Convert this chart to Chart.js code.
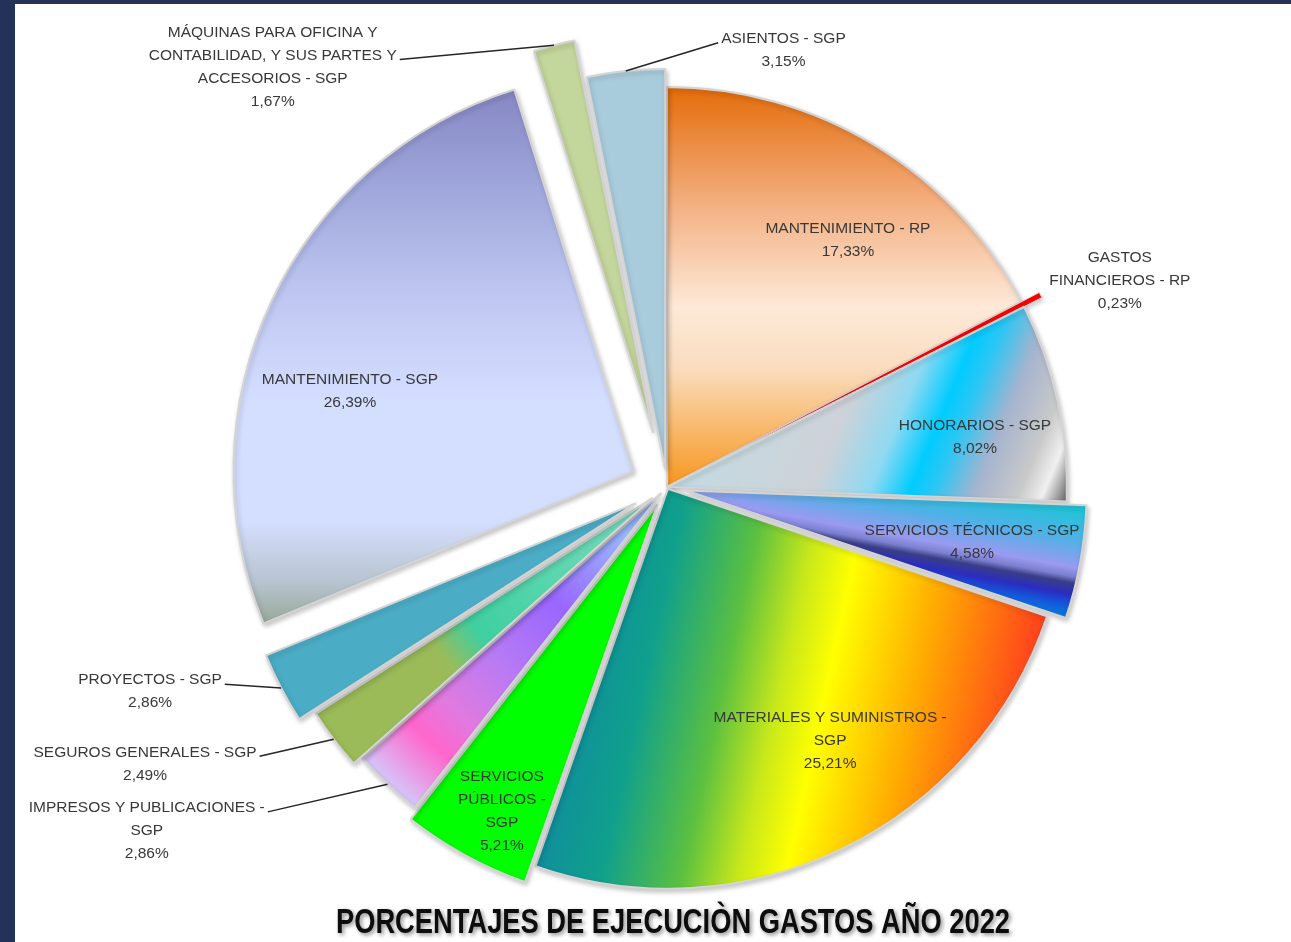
<!DOCTYPE html>
<html lang="es">
<head>
    <meta charset="UTF-8">
    <title>Porcentajes de ejecución gastos año 2022</title>
    <script src="https://cdn.jsdelivr.net/npm/chart.js"></script>
    <style>
        * {
            margin: 0;
            padding: 0;
            box-sizing: border-box;
        }

        body {
            width: 1291px;
            height: 942px;
            overflow: hidden;
            background: #ffffff;
            position: relative;
        }

        .chart-box {
            position: absolute;
            left: 0;
            top: 0;
            width: 1291px;
            height: 942px;
        }

        /* dark frame on the left and top edges */
        .frame-left {
            position: absolute;
            left: 0;
            top: 0;
            width: 15px;
            height: 942px;
            background: #243158;
        }

        .frame-top {
            position: absolute;
            left: 0;
            top: 0;
            width: 1291px;
            height: 4px;
            background: #243158;
        }
    </style>
</head>
<body>
    <div class="chart-box">
        <canvas id="gastosChart"></canvas>
    </div>
    <div class="frame-left"></div>
    <div class="frame-top"></div>

    <script>
        // Data
        const categories = [
            'MANTENIMIENTO - RP',
            'GASTOS FINANCIEROS - RP',
            'HONORARIOS - SGP',
            'SERVICIOS TÉCNICOS - SGP',
            'MATERIALES Y SUMINISTROS - SGP',
            'SERVICIOS PÚBLICOS - SGP',
            'IMPRESOS Y PUBLICACIONES - SGP',
            'SEGUROS GENERALES - SGP',
            'PROYECTOS - SGP',
            'MANTENIMIENTO - SGP',
            'MÁQUINAS PARA OFICINA Y CONTABILIDAD, Y SUS PARTES Y ACCESORIOS - SGP',
            'ASIENTOS - SGP'
        ];
        const percentages = [17.33, 0.23, 8.02, 4.58, 25.21, 5.21, 2.86, 2.49, 2.86, 26.39, 1.67, 3.15];

        // how the category names wrap in the data labels
        const labelLines = [
            ['MANTENIMIENTO - RP'],
            ['GASTOS', 'FINANCIEROS - RP'],
            ['HONORARIOS - SGP'],
            ['SERVICIOS TÉCNICOS - SGP'],
            ['MATERIALES Y SUMINISTROS -', 'SGP'],
            ['SERVICIOS', 'PÚBLICOS -', 'SGP'],
            ['IMPRESOS Y PUBLICACIONES -', 'SGP'],
            ['SEGUROS GENERALES - SGP'],
            ['PROYECTOS - SGP'],
            ['MANTENIMIENTO - SGP'],
            ['MÁQUINAS PARA OFICINA Y', 'CONTABILIDAD, Y SUS PARTES Y', 'ACCESORIOS - SGP'],
            ['ASIENTOS - SGP']
        ];
        const chartTitle = 'PORCENTAJES DE EJECUCIÒN GASTOS AÑO 2022';

        // Layout / style settings
        const pieRadius = 400;
        // slice explosion in px
        const explodePx = [0, 20, 0, 20, 2, 20, 8, 18, 35, 37, 56, 18];
        // label spot: [angle shift from slice middle (deg), distance as share of radius]
        const labelSpots = [
            [5.0, 0.766], [2.7, 1.244], [3.15, 0.78], [-0.1, 0.775],
            [-6.65, 0.755], [-1.7, 0.909], [13.3, 1.559], [9.2, 1.477],
            [5.9, 1.39], [-8.35, 0.828], [-28.85, 1.44], [20.6, 1.13]
        ];
        // which side of the label the leader line joins
        const leaderSide = [null, null, null, null, null, null, 'right', 'right', 'right', null, 'right', 'left'];
        const labelFont = "15.5px 'Liberation Sans', Arial, sans-serif";
        const lineH = 23;
        const titleFont = "bold 35px 'Liberation Sans', Arial, sans-serif";
        const titleSqueeze = 0.78;   // narrow the title like a condensed face

        // fills, in units of the pie radius around the centre
        const sliceFills = [
            { type: 'linear', from: [0, -1], to: [0, 0],
              stops: [[0, '#E46C0A'], [0.3, '#F4B183'], [0.55, '#FDE9D9'], [0.7, '#FBDDBF'], [1, '#F7961E']] },
            '#FF0000',
            { type: 'linear', from: [0, 0], to: [0.867, 0.363],
              stops: [[0, '#C3DBE3'], [0.36, '#CDD2D8'], [0.5, '#8FD9F2'], [0.6, '#00CCFF'], [0.66, '#2CC6F4'],
                      [0.76, '#A6B4CE'], [0.87, '#C9C9C9'], [0.93, '#F0F0F0'], [1, '#5A5A5A']] },
            { type: 'linear', from: [0.0246, -0.1353], to: [-0.0246, 0.1353],
              stops: [[0, '#1BC6D6'], [0.3, '#4DB2E6'], [0.56, '#9A9AF0'], [0.64, '#7C80D0'], [0.7, '#3A3E86'],
                      [0.8, '#2A2CC0'], [0.9, '#1456DC'], [1, '#0A78D8']] },
            { type: 'linear', from: [-0.1466, -0.0321], to: [0.977, 0.214],
              stops: [[0, '#0F8C9F'], [0.17, '#10A08C'], [0.34, '#5CC040'], [0.46, '#C8E81A'],
                      [0.56, '#FFFF00'], [0.74, '#FFB000'], [1, '#FF3C1E']] },
            '#00FF00',
            { type: 'radial',
              stops: [[0, '#8FB0FF'], [0.14, '#99BBFF'], [0.38, '#9966FF'], [0.58, '#B77AF5'],
                      [0.75, '#E07AE0'], [0.85, '#FF66CC'], [1, '#D4C8FA']] },
            { type: 'radial',
              stops: [[0, '#7EDFC0'], [0.55, '#3FCFA0'], [0.66, '#9BBB59'], [1, '#9BBB59']] },
            '#4BACC6',
            { type: 'linear', from: [0, -0.9675], to: [0, 0.3825],
              stops: [[0, '#8585C3'], [0.2, '#A0A8DC'], [0.4, '#C0C8F2'], [0.585, '#D4DEFF'],
                      [0.81, '#D4DEFE'], [0.92, '#B8C4D0'], [1, '#98A898']] },
            '#C3D69B',
            '#A9CCDD'
        ];

        function fillFor(context) {
            const spec = sliceFills[context.dataIndex];
            const area = context.chart.chartArea;
            if (typeof spec === 'string') return spec;
            if (!area) return spec.stops[0][1];
            const cx = (area.left + area.right) / 2;
            const cy = (area.top + area.bottom) / 2;
            const g2d = context.chart.ctx;
            let grad;
            if (spec.type === 'radial') {
                grad = g2d.createRadialGradient(cx, cy, 0, cx, cy, pieRadius);
            } else {
                grad = g2d.createLinearGradient(
                    cx + spec.from[0] * pieRadius, cy + spec.from[1] * pieRadius,
                    cx + spec.to[0] * pieRadius, cy + spec.to[1] * pieRadius);
            }
            spec.stops.forEach(s => grad.addColorStop(s[0], s[1]));
            return grad;
        }

        function pct(v) {
            return v.toFixed(2).replace('.', ',') + '%';
        }

        // draws each slice moved out along its middle angle (Excel style explosion)
        const explodePlugin = {
            id: 'explodeSlices',
            beforeDatasetDraw(chart, args) {
                const c = chart.ctx;
                args.meta.data.forEach((arc, i) => {
                    const mid = (arc.startAngle + arc.endAngle) / 2;
                    const d = explodePx[i];
                    c.save();
                    c.translate(Math.cos(mid) * d, Math.sin(mid) * d);
                    c.shadowColor = 'rgba(0,0,0,0.22)';
                    c.shadowBlur = 5;
                    c.shadowOffsetX = 1.5;
                    c.shadowOffsetY = 2.5;
                    arc.draw(c);
                    c.restore();
                });
                return false;
            }
        };

        // data labels with leader lines
        const labelPlugin = {
            id: 'sliceLabels',
            afterDatasetsDraw(chart) {
                const c = chart.ctx;
                const meta = chart.getDatasetMeta(0);
                c.save();
                c.font = labelFont;
                c.textAlign = 'center';
                c.textBaseline = 'middle';
                meta.data.forEach((arc, i) => {
                    const mid = (arc.startAngle + arc.endAngle) / 2;
                    const a = mid + labelSpots[i][0] * Math.PI / 180;
                    const r = arc.outerRadius * labelSpots[i][1];
                    const x = arc.x + Math.cos(a) * r;
                    const y = arc.y + Math.sin(a) * r;
                    const lines = labelLines[i].concat([pct(percentages[i])]);
                    const top = y - (lines.length - 1) * lineH / 2;

                    c.fillStyle = '#383838';
                    lines.forEach((t, j) => c.fillText(t, x, top + j * lineH));

                    if (leaderSide[i]) {
                        let wide = 0, wj = 0;
                        lines.forEach((t, j) => {
                            const w = c.measureText(t).width;
                            if (w > wide) { wide = w; wj = j; }
                        });
                        const ex = leaderSide[i] === 'right' ? x + wide / 2 + 3 : x - wide / 2 - 3;
                        const ey = top + wj * lineH + 4;
                        const rr = arc.outerRadius + explodePx[i];
                        c.beginPath();
                        c.moveTo(arc.x + Math.cos(mid) * rr, arc.y + Math.sin(mid) * rr);
                        c.lineTo(ex, ey);
                        c.strokeStyle = '#262626';
                        c.lineWidth = 1.5;
                        c.stroke();
                    }
                });
                c.restore();
            }
        };

        // bold title under the pie, narrowed and with a soft shadow
        const titlePlugin = {
            id: 'bottomTitle',
            afterDraw(chart) {
                const c = chart.ctx;
                const area = chart.chartArea;
                const cx = (area.left + area.right) / 2 + 6;
                c.save();
                c.translate(cx, area.bottom + 37);
                c.scale(titleSqueeze, 1);
                c.font = titleFont;
                c.textAlign = 'center';
                c.textBaseline = 'alphabetic';
                c.shadowColor = 'rgba(0,0,0,0.45)';
                c.shadowBlur = 4;
                c.shadowOffsetX = 2;
                c.shadowOffsetY = 2;
                c.fillStyle = '#0D0D0D';
                c.fillText(chartTitle, 0, 0);
                c.restore();
            }
        };

        const ctx = document.getElementById('gastosChart').getContext('2d');
        new Chart(ctx, {
            type: 'pie',
            data: {
                labels: categories,
                datasets: [{
                    data: percentages,
                    radius: pieRadius,
                    backgroundColor: fillFor,
                    borderColor: '#D4D4D4',
                    borderWidth: percentages.map((v, i) => i === 1 ? 1 : 2)
                }]
            },
            options: {
                responsive: true,
                maintainAspectRatio: false,
                animation: false,
                layout: {
                    padding: { top: 78, left: 43, right: 0, bottom: 46 }
                },
                plugins: {
                    legend: { display: false },
                    tooltip: { enabled: false },
                    title: { display: false }
                }
            },
            plugins: [explodePlugin, labelPlugin, titlePlugin]
        });
    </script>
</body>
</html>
